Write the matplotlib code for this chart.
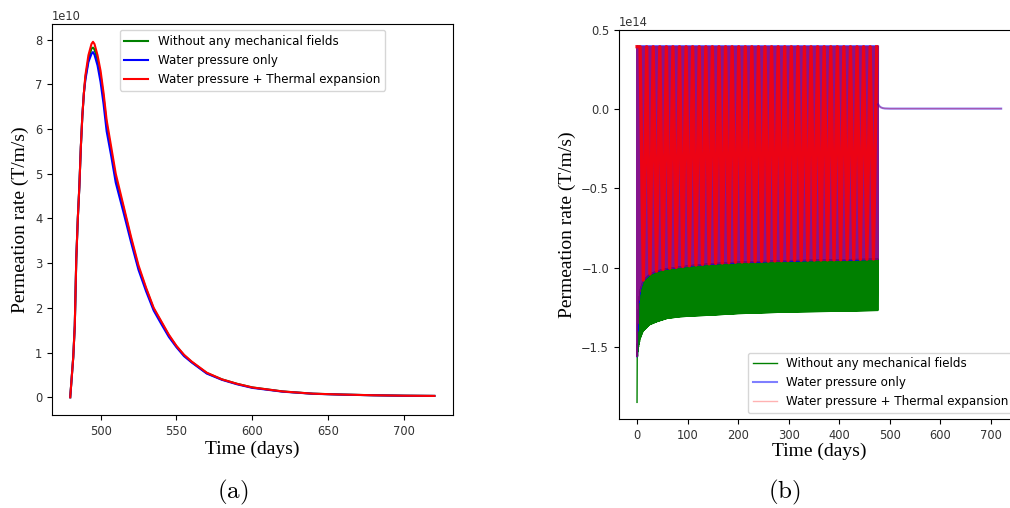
import numpy as np
import matplotlib.pyplot as plt
from matplotlib.lines import Line2D

plt.rcParams['mathtext.fontset'] = 'cm'
plt.rcParams['font.size'] = 8.3

labels = ['Without any mechanical fields', 'Water pressure only',
          'Water pressure + Thermal expansion']

# (a) permeation rate after the cycles stop, x1e10
t_a = [480, 481, 482, 483, 484, 485, 486, 487, 488, 489, 490, 492, 494, 495, 496,
       498, 500, 502, 504, 507, 510, 515, 520, 525, 530, 535, 540, 545, 550, 555,
       560, 570, 580, 590, 600, 620, 640, 660, 680, 700, 720]
red_a = [0, 0.45, 0.9, 1.6, 3.1, 4.0, 4.7, 5.6, 6.3, 6.8, 7.2, 7.65, 7.9, 7.95, 7.9,
         7.65, 7.3, 6.8, 6.2, 5.6, 5.0, 4.3, 3.6, 2.95, 2.45, 2.0, 1.7, 1.4, 1.15, 0.95,
         0.8, 0.55, 0.4, 0.3, 0.22, 0.13, 0.08, 0.06, 0.045, 0.035, 0.03]
green_a = [0, 0.45, 0.9, 1.6, 3.1, 4.0, 4.7, 5.6, 6.3, 6.8, 7.15, 7.55, 7.8, 7.82, 7.78,
           7.55, 7.2, 6.7, 6.1, 5.5, 4.9, 4.25, 3.55, 2.9, 2.42, 1.98, 1.68, 1.38, 1.14, 0.94,
           0.79, 0.54, 0.4, 0.3, 0.22, 0.13, 0.08, 0.06, 0.045, 0.035, 0.03]
blue_a = [0, 0.45, 0.9, 1.6, 3.1, 4.0, 4.7, 5.6, 6.3, 6.8, 7.1, 7.5, 7.68, 7.72, 7.66,
          7.42, 7.05, 6.55, 5.95, 5.4, 4.8, 4.15, 3.48, 2.85, 2.37, 1.94, 1.64, 1.35, 1.12, 0.92,
          0.78, 0.53, 0.39, 0.29, 0.21, 0.125, 0.078, 0.058, 0.044, 0.034, 0.03]

# (b) envelopes of the daily oscillation of the permeation rate, x1e14
t_env = [0, 1, 3, 6, 12, 25, 40, 60, 85, 110, 145, 200, 300, 400, 477]
band_top = [0.395] * len(t_env)
red_low = [-1.56, -1.40, -1.22, -1.14, -1.08, -1.04, -1.02, -1.005, -0.995, -0.985,
           -0.975, -0.965, -0.955, -0.95, -0.945]
green_low = [-1.85, -1.56, -1.50, -1.45, -1.40, -1.36, -1.34, -1.32, -1.31, -1.305,
             -1.30, -1.29, -1.28, -1.275, -1.27]
t_tail = [477, 479, 482, 486, 490, 500, 600, 720]
tail = [0.03, 0.02, 0.012, 0.007, 0.005, 0.004, 0.004, 0.004]
period = 1.0  # one cycle per day


def zigzag(hi, lo, phase=0.0):
    t = np.arange(phase, t_env[-1], period / 2)
    k = np.arange(len(t))
    y = np.where(k % 2 == 0, np.interp(t, t_env, lo), np.interp(t, t_env, hi))
    return t, y


fig = plt.figure(figsize=(10.1, 5.08), dpi=100)

# ---- (a)
ax1 = fig.add_axes([0.0515, 0.183, 0.3966, 0.7697])
ax1.plot(t_a, np.array(green_a) * 1e10, color='green', lw=1.5, label=labels[0])
ax1.plot(t_a, np.array(blue_a) * 1e10, color='blue', lw=1.5, label=labels[1])
ax1.plot(t_a, np.array(red_a) * 1e10, color='red', lw=1.5, label=labels[2])
ax1.legend(loc='upper center', fontsize=8.6)
ax1.set_xticks([500, 550, 600, 650, 700])
ax1.set_xlabel('Time (days)', family='Liberation Serif', fontsize=14)
ax1.set_ylabel('Permeation rate (T/m/s)', family='Liberation Serif', fontsize=14)
ax1.yaxis.set_label_coords(-0.058, 0.5)
ax1.xaxis.set_label_coords(0.5, -0.0665)

# ---- (b)
ax2 = fig.add_axes([0.6127, 0.1752, 0.3966, 0.7657])
tg, yg = zigzag(red_low, green_low)
ax2.plot(tg, yg * 1e14, color='green', lw=1.0)

tb, yb = zigzag(band_top, red_low)
tb = np.concatenate([[0], tb])
yb = np.concatenate([[band_top[0]], yb])
ax2.plot(tb, yb * 1e14, color='blue', lw=1.5, alpha=0.85)

tr, yr = zigzag(band_top, red_low, phase=0.5)
tr = np.concatenate([[0, 0], tr])
yr = np.concatenate([[band_top[0], red_low[0]], yr])
ax2.plot(tr, yr * 1e14, color='red', lw=1.0, alpha=0.45)
# every 13th turning point: the visible red striping of the dense cycles
ax2.plot(tr[::13], yr[::13] * 1e14, color='red', lw=2.4, alpha=0.85)

# after the cycles stop
ax2.plot(t_tail, np.array(tail) * 1e14, color='blue', lw=1.5, alpha=0.5)
ax2.plot(t_tail, np.array(tail) * 1e14, color='red', lw=1.0, alpha=0.3)

ax2.set_xlim(-36, 756)
ax2.set_ylim(-1.955e14, 0.5e14)
ax2.set_yticks(np.array([-1.5, -1.0, -0.5, 0.0, 0.5]) * 1e14)
ax2.set_xticks(range(0, 701, 100))
handles = [Line2D([], [], color='green', lw=1.0),
           Line2D([], [], color='blue', lw=1.5, alpha=0.5),
           Line2D([], [], color='red', lw=1.0, alpha=0.3)]
ax2.legend(handles, labels, loc='lower right', fontsize=8.6)
ax2.set_xlabel('Time (days)', family='Liberation Serif', fontsize=14)
ax2.set_ylabel('Permeation rate (T/m/s)', family='Liberation Serif', fontsize=14)
ax2.yaxis.set_label_coords(-0.1075, 0.5)
ax2.xaxis.set_label_coords(0.5, -0.062)

for ax in (ax1, ax2):
    ax.tick_params(labelcolor='#333333')

fig.text(0.2307, 0.0315, r'$\mathrm{(a)}$', fontsize=18, ha='center', va='center')
fig.text(0.777, 0.0315, r'$\mathrm{(b)}$', fontsize=18, ha='center', va='center')

fig.savefig('out.png', dpi=100)
